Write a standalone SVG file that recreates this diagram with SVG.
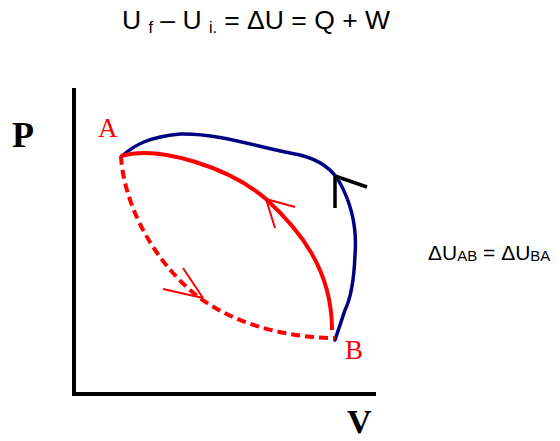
<svg xmlns="http://www.w3.org/2000/svg" width="560" height="441" viewBox="0 0 560 441">
<style>
.eq{font-family:"Liberation Sans",Arial,sans-serif;fill:#000}
.lab{font-family:"Liberation Serif","Times New Roman",serif;fill:#f00}
.ax{font-family:"Liberation Serif","Times New Roman",serif;font-weight:bold;fill:#000}
.red{fill:none;stroke:#f00;stroke-width:4;stroke-linecap:butt}
.redthin{fill:none;stroke:#f00;stroke-width:2}
</style>
<rect width="560" height="441" fill="#fff"/>
<text class="eq" x="122" y="29" font-size="26.5">U <tspan font-size="16" dy="4">f</tspan><tspan dy="-4"> – U </tspan><tspan font-size="16" dy="4">i.</tspan><tspan dy="-4"> = ΔU = Q + W</tspan></text>
<g id="axes">
<path d="M74,88 V394 H376" fill="none" stroke="#000" stroke-width="4"/>
</g>
<text class="ax" x="12" y="147" font-size="36">P</text>
<text class="ax" x="347" y="433" font-size="34">V</text>
<g id="A"><text class="lab" x="98" y="137" font-size="27">A</text></g>
<g id="B"><text class="lab" x="345" y="359" font-size="27">B</text></g>
<g id="connectors">
<path d="M121,157 C135,144 150,137 180,134 C220,133 260,148 300,155 C320,160 333,170 340,183 C352,205 357,230 355,255 C354,280 350,300 345,310 L335,340" fill="none" stroke="#000080" stroke-width="3.5" stroke-linecap="round"/>
<path d="M335,176 L367,187 M335,176 L335,208" fill="none" stroke="#000" stroke-width="3.5"/>
<path class="red" d="M121,156 C160,145 230,168 266,199 C300,230 332,270 332,330"/>
<path class="redthin" d="M266,199 L295,207 M266,199 L275,228"/>
<path class="red" d="M121,156 C123,195 145,250 190,290 C230,325 290,338 335,338" stroke-dasharray="9,5"/>
<path class="redthin" d="M203,298 L163,289 M203,298 L183,268"/>
</g>
<text class="eq" x="428" y="260" font-size="21">ΔU<tspan font-size="15" dy="1">AB</tspan><tspan dy="-1"> = ΔU</tspan><tspan font-size="15" dy="1">BA</tspan></text>
</svg>
